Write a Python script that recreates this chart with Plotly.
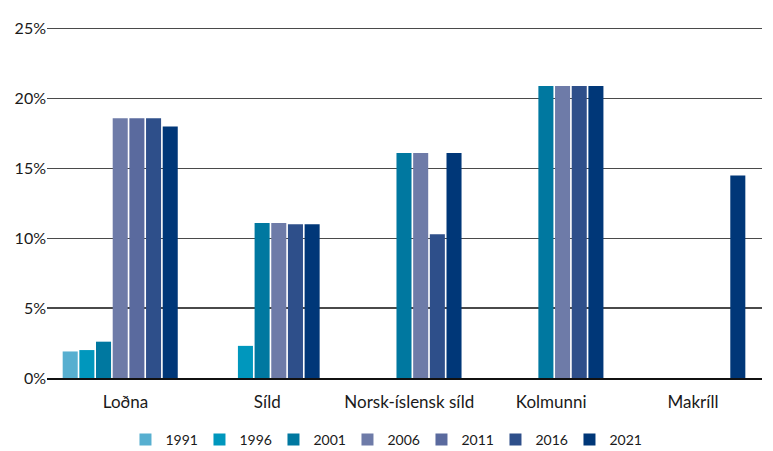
import plotly.graph_objects as go

categories = ["Loðna", "Síld", "Norsk-íslensk síld", "Kolmunni", "Makríll"]
years = ["1991", "1996", "2001", "2006", "2011", "2016", "2021"]

v1991 = [1.9, None, None, None, None]
v1996 = [2.0, 2.3, None, None, None]
v2001 = [2.6, 11.1, 16.1, 20.9, None]
v2006 = [18.6, 11.1, 16.1, 20.9, None]
v2011 = [18.6, None, None, None, None]
v2016 = [18.6, 11.0, 10.3, 20.9, None]
v2021 = [18.0, 11.0, 16.1, 20.9, 14.5]

y_ticks = [0, 5, 10, 15, 20, 25]

series = [v1991, v1996, v2001, v2006, v2011, v2016, v2021]
colors = ["#57afd0", "#0097bd", "#0078a0", "#6e7ba8", "#5a6a9e", "#2e4f8a", "#003778"]

# layout of bars within each category: present bars packed to the right
slot = 0.1175
bar_w = 0.106
right_edge = 0.38

present_count = [sum(1 for s in series if s[i] is not None) for i in range(len(categories))]

fig = go.Figure()
for k, (yr, vals, col) in enumerate(zip(years, series, colors)):
    offsets = []
    for i in range(len(categories)):
        if vals[i] is None:
            offsets.append(0)
            continue
        rank = sum(1 for s in series[:k] if s[i] is not None)
        n = present_count[i]
        offsets.append(right_edge - (n - rank) * slot)
    fig.add_trace(go.Bar(
        x=categories, y=vals, name=yr,
        marker=dict(color=col, line=dict(width=0)),
        offset=offsets, width=bar_w,
        hoverinfo="skip",
    ))

font_family = "Lato, 'Open Sans', sans-serif"

fig.update_layout(
    width=773, height=451,
    margin=dict(l=47, r=11, t=26, b=73, autoexpand=False),
    barmode="overlay",
    plot_bgcolor="white", paper_bgcolor="white",
    font=dict(family=font_family, color="#1a1a1a"),
    showlegend=True,
    legend=dict(
        orientation="h", x=0.472, xanchor="center", y=-0.176, yanchor="middle",
        font=dict(size=14, family=font_family, color="#1a1a1a"),
        entrywidth=29, entrywidthmode="pixels",
        traceorder="normal", itemclick=False,
    ),
    xaxis=dict(
        type="category",
        range=[-0.553, 4.486],
        showgrid=False, automargin=False,
        showline=True, linecolor="#111111", linewidth=2,
        layer="above traces",
        ticks="", tickfont=dict(size=17, family=font_family, color="#1a1a1a"),
        ticklabelstandoff=8,
        fixedrange=True,
    ),
    yaxis=dict(
        range=[0, 25.2],
        tickvals=y_ticks, ticktext=[f"{t}%" for t in y_ticks],
        showgrid=True, gridcolor="#4a4a4a", gridwidth=1.4,
        zeroline=False, showline=False, automargin=False,
        ticks="", tickfont=dict(size=16, family=font_family, color="#1a1a1a"),
        fixedrange=True,
    ),
)

fig.write_html(
    "out.html",
    config={"displayModeBar": False, "staticPlot": True},
    post_script="document.body.style.margin='0';document.body.style.overflow='hidden';",
)
